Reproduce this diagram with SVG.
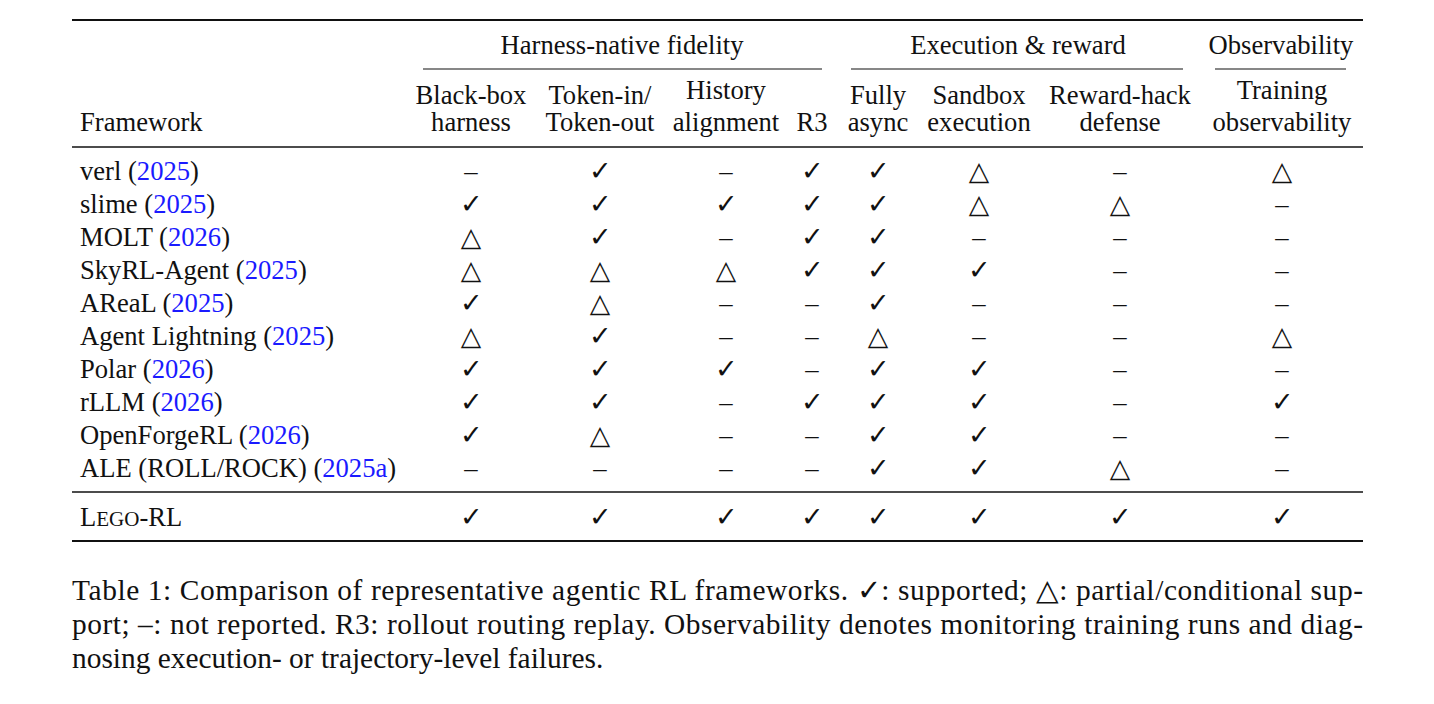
<svg xmlns="http://www.w3.org/2000/svg" width="1434" height="704" viewBox="0 0 1434 704">
<style>
text{font-family:"Liberation Serif","DejaVu Serif",serif;font-size:26.6px;fill:#111}
.c{text-anchor:middle}
.b{fill:#1a1aff}
.cap{font-size:29.4px}
line{stroke:#111}
</style>
<rect width="1434" height="704" fill="#fff"/>
<g id="rules">
<line x1="72" y1="20" x2="1363" y2="20" stroke-width="2.2"/>
<line x1="423" y1="69" x2="822" y2="69" stroke-width="1.2"/>
<line x1="851" y1="69" x2="1183" y2="69" stroke-width="1.2"/>
<line x1="1215" y1="69" x2="1346" y2="69" stroke-width="1.2"/>
<line x1="72" y1="147" x2="1363" y2="147" stroke-width="1.4"/>
<line x1="72" y1="492" x2="1363" y2="492" stroke-width="1.4"/>
<line x1="72" y1="541" x2="1363" y2="541" stroke-width="2.2"/>
</g>
<g id="header">
<text class="c" x="622" y="54">Harness-native fidelity</text>
<text class="c" x="1018" y="54">Execution &amp; reward</text>
<text class="c" x="1281" y="54">Observability</text>
<text x="80" y="131">Framework</text>
<text class="c" x="471" y="104">Black-box</text><text class="c" x="471" y="131">harness</text>
<text class="c" x="600" y="104">Token-in/</text><text class="c" x="600" y="131">Token-out</text>
<text class="c" x="726" y="99">History</text><text class="c" x="726" y="131">alignment</text>
<text class="c" x="812" y="131">R3</text>
<text class="c" x="878" y="104">Fully</text><text class="c" x="878" y="131">async</text>
<text class="c" x="979" y="104">Sandbox</text><text class="c" x="979" y="131">execution</text>
<text class="c" x="1120" y="104">Reward-hack</text><text class="c" x="1120" y="131">defense</text>
<text class="c" x="1282" y="99">Training</text><text class="c" x="1282" y="131">observability</text>
</g>
<g id="names">
<text x="80" y="180">verl (<tspan class="b">2025</tspan>)</text>
<text x="80" y="213">slime (<tspan class="b">2025</tspan>)</text>
<text x="80" y="246">MOLT (<tspan class="b">2026</tspan>)</text>
<text x="80" y="279">SkyRL-Agent (<tspan class="b">2025</tspan>)</text>
<text x="80" y="312">AReaL (<tspan class="b">2025</tspan>)</text>
<text x="80" y="345">Agent Lightning (<tspan class="b">2025</tspan>)</text>
<text x="80" y="378">Polar (<tspan class="b">2026</tspan>)</text>
<text x="80" y="411">rLLM (<tspan class="b">2026</tspan>)</text>
<text x="80" y="444">OpenForgeRL (<tspan class="b">2026</tspan>)</text>
<text x="80" y="477">ALE (ROLL/ROCK) (<tspan class="b">2025a</tspan>)</text>
<text x="80" y="526">L<tspan font-size="21">EGO</tspan>-RL</text>
</g>
<g id="cells">
<text class="c" x="471" y="180">–</text><text class="c" x="600" y="180">✓</text><text class="c" x="726" y="180">–</text><text class="c" x="812" y="180">✓</text><text class="c" x="878" y="180">✓</text><text class="c" x="979" y="180">△</text><text class="c" x="1120" y="180">–</text><text class="c" x="1282" y="180">△</text>
<text class="c" x="471" y="213">✓</text><text class="c" x="600" y="213">✓</text><text class="c" x="726" y="213">✓</text><text class="c" x="812" y="213">✓</text><text class="c" x="878" y="213">✓</text><text class="c" x="979" y="213">△</text><text class="c" x="1120" y="213">△</text><text class="c" x="1282" y="213">–</text>
<text class="c" x="471" y="246">△</text><text class="c" x="600" y="246">✓</text><text class="c" x="726" y="246">–</text><text class="c" x="812" y="246">✓</text><text class="c" x="878" y="246">✓</text><text class="c" x="979" y="246">–</text><text class="c" x="1120" y="246">–</text><text class="c" x="1282" y="246">–</text>
<text class="c" x="471" y="279">△</text><text class="c" x="600" y="279">△</text><text class="c" x="726" y="279">△</text><text class="c" x="812" y="279">✓</text><text class="c" x="878" y="279">✓</text><text class="c" x="979" y="279">✓</text><text class="c" x="1120" y="279">–</text><text class="c" x="1282" y="279">–</text>
<text class="c" x="471" y="312">✓</text><text class="c" x="600" y="312">△</text><text class="c" x="726" y="312">–</text><text class="c" x="812" y="312">–</text><text class="c" x="878" y="312">✓</text><text class="c" x="979" y="312">–</text><text class="c" x="1120" y="312">–</text><text class="c" x="1282" y="312">–</text>
<text class="c" x="471" y="345">△</text><text class="c" x="600" y="345">✓</text><text class="c" x="726" y="345">–</text><text class="c" x="812" y="345">–</text><text class="c" x="878" y="345">△</text><text class="c" x="979" y="345">–</text><text class="c" x="1120" y="345">–</text><text class="c" x="1282" y="345">△</text>
<text class="c" x="471" y="378">✓</text><text class="c" x="600" y="378">✓</text><text class="c" x="726" y="378">✓</text><text class="c" x="812" y="378">–</text><text class="c" x="878" y="378">✓</text><text class="c" x="979" y="378">✓</text><text class="c" x="1120" y="378">–</text><text class="c" x="1282" y="378">–</text>
<text class="c" x="471" y="411">✓</text><text class="c" x="600" y="411">✓</text><text class="c" x="726" y="411">–</text><text class="c" x="812" y="411">✓</text><text class="c" x="878" y="411">✓</text><text class="c" x="979" y="411">✓</text><text class="c" x="1120" y="411">–</text><text class="c" x="1282" y="411">✓</text>
<text class="c" x="471" y="444">✓</text><text class="c" x="600" y="444">△</text><text class="c" x="726" y="444">–</text><text class="c" x="812" y="444">–</text><text class="c" x="878" y="444">✓</text><text class="c" x="979" y="444">✓</text><text class="c" x="1120" y="444">–</text><text class="c" x="1282" y="444">–</text>
<text class="c" x="471" y="477">–</text><text class="c" x="600" y="477">–</text><text class="c" x="726" y="477">–</text><text class="c" x="812" y="477">–</text><text class="c" x="878" y="477">✓</text><text class="c" x="979" y="477">✓</text><text class="c" x="1120" y="477">△</text><text class="c" x="1282" y="477">–</text>
<text class="c" x="471" y="526">✓</text><text class="c" x="600" y="526">✓</text><text class="c" x="726" y="526">✓</text><text class="c" x="812" y="526">✓</text><text class="c" x="878" y="526">✓</text><text class="c" x="979" y="526">✓</text><text class="c" x="1120" y="526">✓</text><text class="c" x="1282" y="526">✓</text>
</g>
<g id="caption">
<text class="cap" x="72" y="600" textLength="1291" lengthAdjust="spacing">Table 1: Comparison of representative agentic RL frameworks. ✓: supported; △: partial/conditional sup-</text>
<text class="cap" x="72" y="634" textLength="1291" lengthAdjust="spacing">port; –: not reported. R3: rollout routing replay. Observability denotes monitoring training runs and diag-</text>
<text class="cap" x="72" y="668">nosing execution- or trajectory-level failures.</text>
</g>
</svg>
